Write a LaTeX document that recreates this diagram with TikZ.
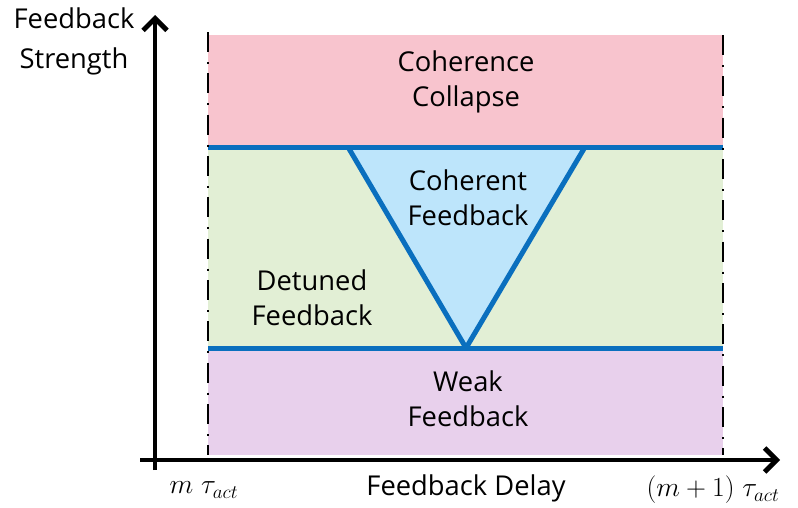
\documentclass[tikz,border=0pt]{standalone}
\usepackage{amsmath,amssymb}
\usepackage{fontspec}
\setmainfont{Open Sans}
\usetikzlibrary{arrows.meta,positioning}
\definecolor{rosa}{HTML}{F8C4CE}
\definecolor{verde}{HTML}{E2EFD5}
\definecolor{lila}{HTML}{E8D0EC}
\definecolor{celeste}{HTML}{BDE5FB}
\definecolor{azul}{HTML}{0A6FBE}

\begin{document}
\begin{tikzpicture}[x=0.75pt,y=-0.75pt,every node/.style={font=\fontsize{20.5}{26.5}\selectfont,align=center}]
        \useasboundingbox (0,0) rectangle (798,507);
        % zonas
        \fill[rosa] (208,35) rectangle (723,147);
        \fill[verde] (208,147) rectangle (723,348);
        \fill[lila] (208,348) rectangle (723,455);
        \filldraw[fill=celeste,draw=azul,line width=3.75pt,line join=round] (348,147) -- (466,348) -- (585,147);
        \draw[azul,line width=3.75pt] (208,147) -- (723,147);
        \draw[azul,line width=3.75pt] (208,348) -- (723,348);
        % limites
        \draw[line width=2pt,dash pattern=on 15pt off 7.5pt on 1.5pt off 7pt] (208,32) -- (208,455);
        \draw[line width=2pt,dash pattern=on 15pt off 7.5pt on 1.5pt off 7pt] (723,35) -- (723,455);
        % ejes
        \coordinate (o) at (155,470);
        \coordinate (ytop) at (155,15);
        \coordinate (xo) at (140,460);
        \coordinate (xend) at (780,460);
        \draw[line width=3.6pt,-{Straight Barb[length=9pt,width=18pt]}] (o) -- (ytop);
        \draw[line width=3.6pt,-{Straight Barb[length=9pt,width=18pt]}] (xo) -- (xend);
        % textos
        \node (colapso) at (466,82) {Coherence\\Collapse};
        \node (coherente) at (468,198) {Coherent\\Feedback};
        \node (desafinado) at (312,298) {Detuned\\Feedback};
        \node (debil) at (468,399) {Weak\\Feedback};
        \node[font=\fontsize{20.5}{30}\selectfont] (ylab) at (74,41) {Feedback\\Strength};
        \node (xlab) at (466,488) {Feedback Delay};
        \node[font=\fontsize{22}{26}\selectfont] (t0) at (204,490) {$m\;\tau_{act}$};
        \node[font=\fontsize{22}{26}\selectfont] (t1) at (713,490) {$(m+1)\;\tau_{act}$};
      \end{tikzpicture}
\end{document}
